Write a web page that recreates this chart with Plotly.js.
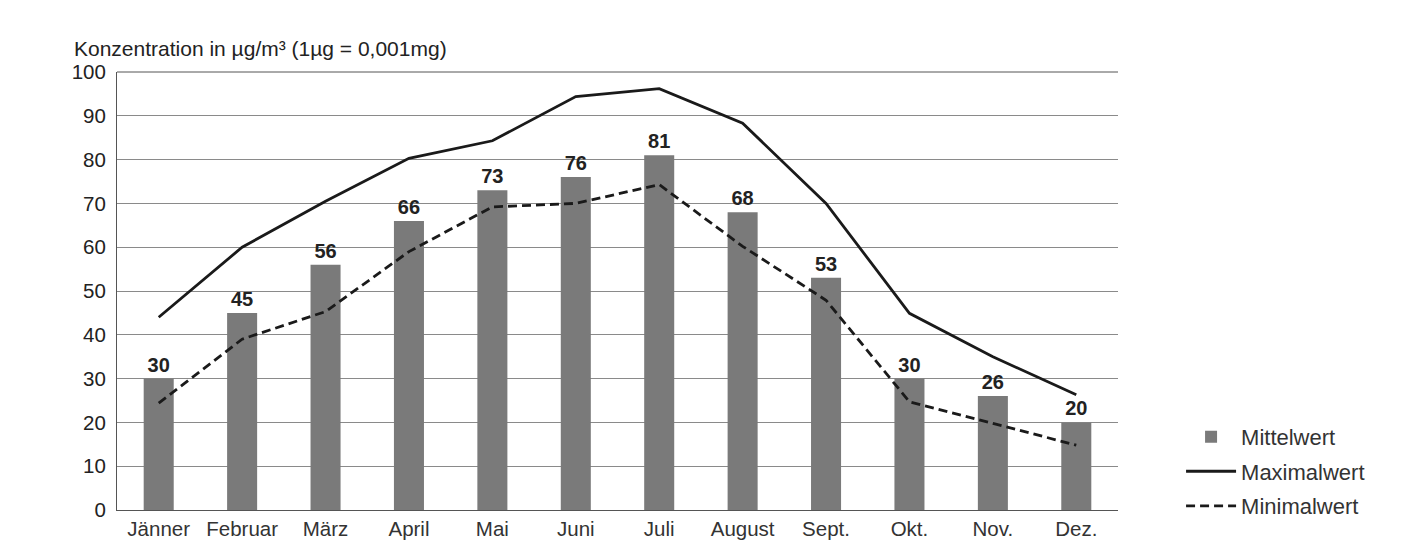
<!DOCTYPE html>
<html>
<head>
<meta charset="utf-8">
<script src="https://cdn.plot.ly/plotly-3.0.1.min.js"></script>
<style>html,body{margin:0;padding:0;background:#fff;}#chart{width:1413px;height:557px;}</style>
</head>
<body>
<div id="chart"></div>
<script>
const months = ["Jänner","Februar","März","April","Mai","Juni","Juli","August","Sept.","Okt.","Nov.","Dez."];
const mittelwert = [30,45,56,66,73,76,81,68,53,30,26,20];
const maximalwert = [44,60,70.5,80.3,84.3,94.4,96.2,88.3,70,44.9,35,26.3];
const minimalwert = [24.4,39,45.3,59,69.2,70,74.3,60.2,47.9,24.7,19.8,14.8];
const yTicks = [0,10,20,30,40,50,60,70,80,90,100];

const font = "Liberation Sans, Arial, sans-serif";

const traces = [
  {
    type: "bar", name: "Mittelwert", x: months, y: mittelwert,
    marker: {color: "#7a7a7a"}, width: 0.36,
    text: mittelwert.map(String), textposition: "outside",
    textfont: {family: font, size: 20, color: "#222"},
    texttemplate: "<b>%{text}</b>", cliponaxis: false,
    legendgroup: "a", hoverinfo: "skip"
  },
  {
    type: "scatter", mode: "lines", name: "Maximalwert", x: months, y: maximalwert,
    line: {color: "#1a1a1a", width: 2.8}, legendgroup: "b"
  },
  {
    type: "scatter", mode: "lines", name: "Minimalwert", x: months, y: minimalwert,
    line: {color: "#1a1a1a", width: 2.8, dash: "9px,5px"}, legendgroup: "c"
  }
];

const layout = {
  width: 1413, height: 557,
  margin: {l: 117, r: 295, t: 72, b: 47},
  paper_bgcolor: "#fff", plot_bgcolor: "#fff",
  font: {family: font, color: "#222", size: 20},
  showlegend: true,
  legend: {x: 1.063, y: 0.215, xanchor: "left", yanchor: "top", traceorder: "grouped",
           tracegroupgap: 3, itemwidth: 50,
           font: {family: font, size: 22, color: "#333"}, bgcolor: "rgba(0,0,0,0)"},
  xaxis: {
    showgrid: false, showline: true, linecolor: "#555", linewidth: 1,
    ticks: "", tickfont: {family: font, size: 20.5, color: "#333"}, fixedrange: true
  },
  yaxis: {
    range: [0, 100], tickvals: yTicks, ticktext: yTicks.map(String),
    showgrid: true, gridcolor: "#8a8a8a", gridwidth: 1,
    showline: true, linecolor: "#555", linewidth: 1, zeroline: false,
    ticks: "", ticklen: 0, ticklabelstandoff: 6,
    tickfont: {family: font, size: 20.5, color: "#222"}, fixedrange: true
  },
  annotations: [
    {xref: "paper", yref: "paper", x: -0.045, y: 1.022, xanchor: "left", yanchor: "bottom",
     text: "Konzentration in µg/m³ (1µg = 0,001mg)", showarrow: false,
     font: {family: font, size: 21, color: "#222"}}
  ],
  shapes: [
    {type: "line", xref: "paper", yref: "paper", x0: 0, x1: 1, y0: 1, y1: 1, line: {color: "#555", width: 1}}
  ]
};

Plotly.newPlot("chart", traces, layout, {displayModeBar: false, staticPlot: true});
</script>
</body>
</html>
